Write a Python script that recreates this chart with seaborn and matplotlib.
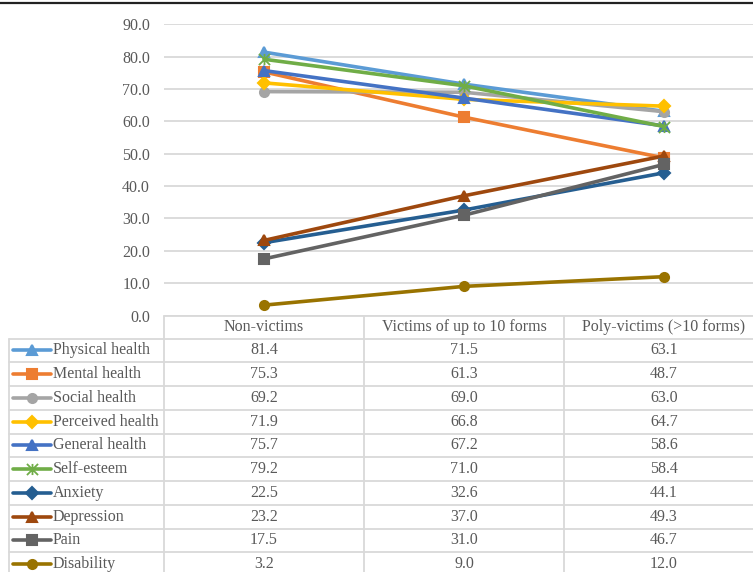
import pandas as pd
import matplotlib.pyplot as plt
import seaborn as sns
from matplotlib.lines import Line2D
from matplotlib.path import Path

# Chart data
groups = ['Non-victims', 'Victims of up to 10 forms', 'Poly-victims (>10 forms)']
measures = ['Physical health', 'Mental health', 'Social health', 'Perceived health',
            'General health', 'Self-esteem', 'Anxiety', 'Depression', 'Pain', 'Disability']
physical = [81.4, 71.5, 63.1]
mental = [75.3, 61.3, 48.7]
social = [69.2, 69.0, 63.0]
perceived = [71.9, 66.8, 64.7]
general = [75.7, 67.2, 58.6]
self_esteem = [79.2, 71.0, 58.4]
anxiety = [22.5, 32.6, 44.1]
depression = [23.2, 37.0, 49.3]
pain = [17.5, 31.0, 46.7]
disability = [3.2, 9.0, 12.0]
series = [physical, mental, social, perceived, general, self_esteem,
          anxiety, depression, pain, disability]

# Excel style "star" marker: an X with a vertical bar
star = Path([(-1, -1), (1, 1), (-1, 1), (1, -1), (0, -1), (0, 1)],
            [Path.MOVETO, Path.LINETO, Path.MOVETO, Path.LINETO, Path.MOVETO, Path.LINETO])

colors = ['#5B9BD5', '#ED7D31', '#A5A5A5', '#FFC000', '#4472C4',
          '#70AD47', '#255E91', '#9E480E', '#636363', '#997300']
marks = ['^', 's', 'o', 'D', '^', star, 'D', '^', 's', 'o']

# long format for seaborn
rows = []
for m, vals in zip(measures, series):
    for i, v in enumerate(vals):
        rows.append({'measure': m, 'pos': i, 'value': v})
df = pd.DataFrame(rows)

W, H = 753, 572
def fx(x):
    return x / W
def fy(y):
    return 1 - y / H

sns.set_theme(style='white')
plt.rcParams['font.family'] = ['Liberation Serif', 'DejaVu Serif']
text_col = '#595959'
grid_col = '#D9D9D9'
fs = 11.5

fig = plt.figure(figsize=(7.53, 5.72), dpi=100)
# plot area: x 164..764 px (cropped at the right), y 24.3..315.5 px
ax = fig.add_axes([fx(164), fy(315.5), 600 / W, (315.5 - 24.3) / H])

for m, c, mk in zip(measures, colors, marks):
    sub = df[df['measure'] == m]
    is_star = mk is star
    sns.lineplot(data=sub, x='pos', y='value', color=c, marker=mk, ax=ax,
                 linewidth=2.6, markersize=8 if is_star else 6.5,
                 markeredgecolor=c, markeredgewidth=1.3 if is_star else 1.5,
                 legend=False, zorder=3)

ax.set_xlim(-0.5, len(groups) - 0.5)
ax.set_ylim(0, 90)
ax.set_yticks(range(0, 91, 10))
ax.set_yticklabels([f'{t:.1f}' for t in range(0, 91, 10)], color=text_col, fontsize=fs)
ax.set_xticks([])
ax.set_xlabel('')
ax.set_ylabel('')
ax.tick_params(axis='y', length=0, pad=10)
ax.yaxis.grid(True, color=grid_col, linewidth=1.3)
ax.set_axisbelow(True)
for s in ax.spines.values():
    s.set_visible(False)

# top border
fig.add_artist(Line2D([0, 1], [fy(2.5), fy(2.5)], color='#222222', linewidth=1.6))

# data table
top = 315.5
hdr_bot = 338.5
rh = 23.75
col_edges = [164, 364, 564, 764]
bottom = hdr_bot + rh * len(measures)

def hline(y, x0, x1):
    fig.add_artist(Line2D([fx(x0), fx(x1)], [fy(y), fy(y)], color=grid_col, linewidth=1.3))

def vline(x, y0, y1):
    fig.add_artist(Line2D([fx(x), fx(x)], [fy(y0), fy(y1)], color=grid_col, linewidth=1.3))

hline(top, 164, 764)
for k in range(len(measures)):
    hline(hdr_bot + rh * k, 9, 764)
vline(9, hdr_bot, bottom)
for x in col_edges[:3]:
    vline(x, top, bottom)

for j, g in enumerate(groups):
    cx = (col_edges[j] + col_edges[j + 1]) / 2
    fig.text(fx(cx), fy((top + hdr_bot) / 2), g, ha='center', va='center',
             fontsize=fs, color=text_col)

for i, (m, vals, c, mk) in enumerate(zip(measures, series, colors, marks)):
    cy = hdr_bot + rh * (i + 0.5)
    is_star = mk is star
    fig.add_artist(Line2D([fx(13), fx(51)], [fy(cy), fy(cy)], color=c, linewidth=2.6))
    fig.add_artist(Line2D([fx(32)], [fy(cy)], color=c, marker=mk, linestyle='none',
                          markersize=8 if is_star else 6.5, markeredgecolor=c,
                          markeredgewidth=1.3 if is_star else 1.5))
    fig.text(fx(53), fy(cy), m, ha='left', va='center', fontsize=fs, color=text_col)
    for j, v in enumerate(vals):
        cx = (col_edges[j] + col_edges[j + 1]) / 2
        fig.text(fx(cx), fy(cy), f'{v:.1f}', ha='center', va='center',
                 fontsize=fs, color=text_col)

fig.savefig('out.png', dpi=100)
